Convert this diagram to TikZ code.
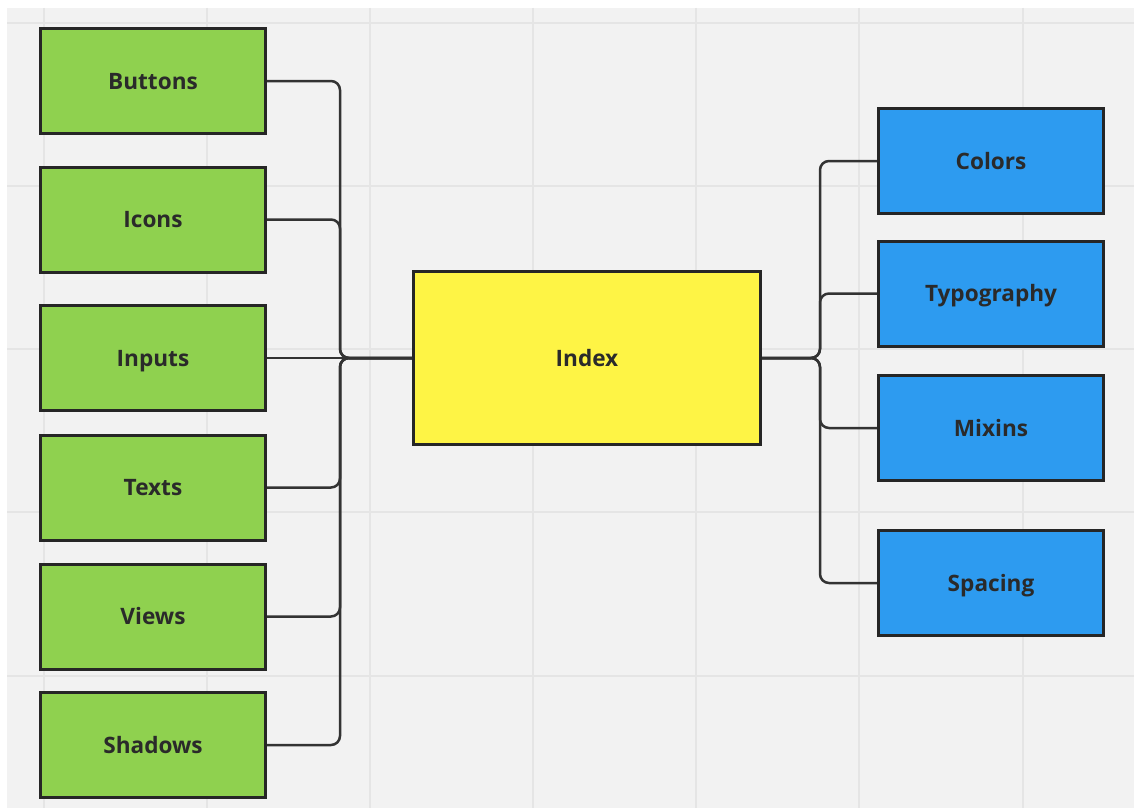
\documentclass[tikz,border=0pt]{standalone}
\usepackage{fontspec}
\setmainfont{Open Sans}
\begin{document}
\begin{tikzpicture}[x=1pt,y=-1pt,
  box/.style={draw=boxline,line width=3pt,minimum width=225pt,minimum height=105pt,inner sep=0pt,
    text height=20pt,text depth=4pt,
    font=\fontsize{22.6}{26}\selectfont\bfseries,text=txt},
  gbox/.style={box,fill=gfill},
  bbox/.style={box,fill=bfill},
  ybox/.style={box,fill=yfill,minimum width=347pt,minimum height=173pt},
  conn/.style={draw=lin,line width=2.5pt,rounded corners=9pt},
  gridl/.style={draw=grd,line width=1.6pt}]
\definecolor{bg}{HTML}{F2F2F2}
\definecolor{grd}{HTML}{E5E5E5}
\definecolor{gfill}{HTML}{8FD14F}
\definecolor{bfill}{HTML}{2D9BF0}
\definecolor{yfill}{HTML}{FEF445}
\definecolor{boxline}{HTML}{262626}
\definecolor{lin}{HTML}{333333}
\definecolor{txt}{HTML}{2A2A2A}
\useasboundingbox (0,0) rectangle (1134,808);
\fill[white] (0,0) rectangle (1134,808);
\fill[bg] (7,8) rectangle (1134,808);
\foreach \gx in {44,207,370,533,696,859,1023} {\draw[gridl] (\gx,8) -- (\gx,808);}
\foreach \gy in {23,186,349,512,676} {\draw[gridl] (7,\gy) -- (1134,\gy);}
\node[gbox] (btn) at (153,81) {Buttons};
\node[gbox] (ico) at (153,219.5) {Icons};
\node[gbox] (inp) at (153,358) {Inputs};
\node[gbox] (txs) at (153,487.5) {Texts};
\node[gbox] (vws) at (153,616.5) {Views};
\node[gbox] (shd) at (153,745) {Shadows};
\node[ybox] (idx) at (587,358) {Index};
\node[bbox] (col) at (991,161) {Colors};
\node[bbox] (typ) at (991,293.5) {Typography};
\node[bbox] (mix) at (991,428) {Mixins};
\node[bbox] (spc) at (991,583) {Spacing};
\foreach \n in {btn,ico,txs,vws,shd} {\draw[conn] (idx.west) -- ++(-72,0) |- (\n.east);}
\draw[conn] (idx.west) -- (inp.east);
\foreach \n in {col,typ,mix,spc} {\draw[conn] (idx.east) -- ++(58,0) |- (\n.west);}
\end{tikzpicture}
\end{document}
